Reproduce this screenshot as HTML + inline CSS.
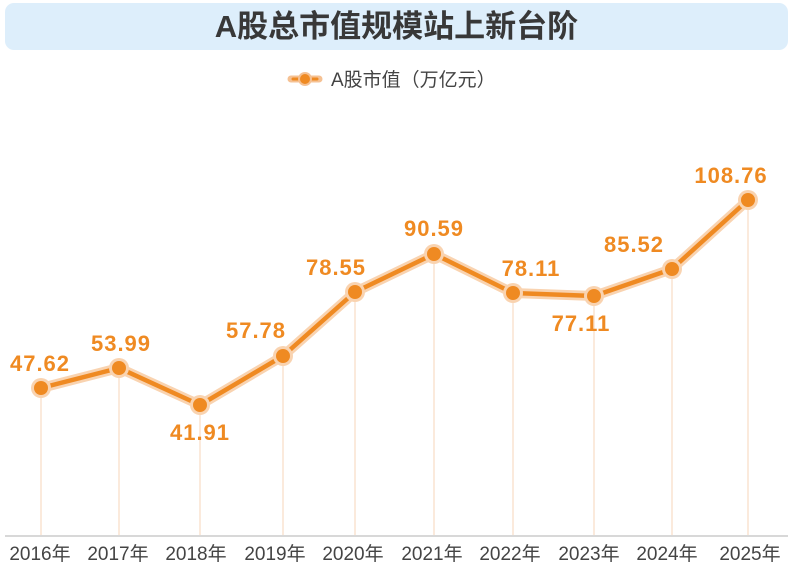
<!DOCTYPE html>
<html><head><meta charset="utf-8"><style>
body{margin:0;width:793px;height:568px;background:#fff;overflow:hidden;font-family:"Liberation Sans","Noto Sans CJK SC",sans-serif;}
.t{position:absolute;left:5px;top:3px;width:783px;height:47px;background:#ddeefb;border-radius:9px;text-align:center;line-height:47px;font-size:31px;font-weight:bold;color:#383838;}
</style></head><body>
<div class="t">A股总市值规模站上新台阶</div>
<svg width="793" height="568" style="position:absolute;left:0;top:0">
<g transform="translate(305,79)">
<line x1="-14" y1="0" x2="14" y2="0" stroke="#f5c193" stroke-width="7" stroke-linecap="round"/>
<line x1="-12" y1="0" x2="12" y2="0" stroke="#ef8a22" stroke-width="3" stroke-linecap="round"/>
<circle r="7" fill="#f5c193"/><circle r="5" fill="#ef8a22"/>
</g>
<text x="331" y="86" font-size="19" fill="#444" font-family="Liberation Sans,Noto Sans CJK SC,sans-serif">A股市值（万亿元）</text>
<line x1="5" y1="536" x2="788" y2="536" stroke="#ccc" stroke-width="1.5"/>
<g stroke="#f8dcc4" stroke-width="1.2">
<line x1="41" y1="388" x2="41" y2="535"/><line x1="119" y1="368" x2="119" y2="535"/>
<line x1="200" y1="405" x2="200" y2="535"/><line x1="283" y1="356" x2="283" y2="535"/>
<line x1="355" y1="292" x2="355" y2="535"/><line x1="434" y1="254" x2="434" y2="535"/>
<line x1="513" y1="293" x2="513" y2="535"/><line x1="594" y1="296" x2="594" y2="535"/>
<line x1="672" y1="269" x2="672" y2="535"/><line x1="748" y1="200" x2="748" y2="535"/>
</g>
<polyline points="41,388 119,368 200,405 283,356 355,292 434,254 513,293 594,296 672,269 748,200" fill="none" stroke="#f9d3b0" stroke-width="10" stroke-linejoin="round"/>
<polyline points="41,388 119,368 200,405 283,356 355,292 434,254 513,293 594,296 672,269 748,200" fill="none" stroke="#ef8a22" stroke-width="4.5" stroke-linejoin="round"/>
<g>
<g fill="#f9d3b0"><circle cx="41" cy="388" r="10"/><circle cx="119" cy="368" r="10"/><circle cx="200" cy="405" r="10"/><circle cx="283" cy="356" r="10"/><circle cx="355" cy="292" r="10"/><circle cx="434" cy="254" r="10"/><circle cx="513" cy="293" r="10"/><circle cx="594" cy="296" r="10"/><circle cx="672" cy="269" r="10"/><circle cx="748" cy="200" r="10"/></g>
<g fill="#ef8a22"><circle cx="41" cy="388" r="7"/><circle cx="119" cy="368" r="7"/><circle cx="200" cy="405" r="7"/><circle cx="283" cy="356" r="7"/><circle cx="355" cy="292" r="7"/><circle cx="434" cy="254" r="7"/><circle cx="513" cy="293" r="7"/><circle cx="594" cy="296" r="7"/><circle cx="672" cy="269" r="7"/><circle cx="748" cy="200" r="7"/></g>
</g>
<g font-size="22" font-weight="bold" fill="#ef8a22" text-anchor="middle" font-family="Liberation Sans,sans-serif" letter-spacing="1">
<text x="40" y="371">47.62</text><text x="121" y="351">53.99</text><text x="200" y="440">41.91</text>
<text x="256" y="338">57.78</text><text x="336" y="275">78.55</text><text x="434" y="236">90.59</text>
<text x="531" y="276">78.11</text><text x="581" y="331">77.11</text><text x="634" y="252">85.52</text>
<text x="731" y="183">108.76</text>
</g>
<g font-size="19" fill="#444" text-anchor="middle" font-family="Liberation Sans,Noto Sans CJK SC,sans-serif">
<text x="40" y="560">2016年</text><text x="118" y="560">2017年</text><text x="196" y="560">2018年</text>
<text x="275" y="560">2019年</text><text x="353" y="560">2020年</text><text x="432" y="560">2021年</text>
<text x="510" y="560">2022年</text><text x="589" y="560">2023年</text><text x="667" y="560">2024年</text>
<text x="750" y="560">2025年</text>
</g>
</svg>
</body></html>
